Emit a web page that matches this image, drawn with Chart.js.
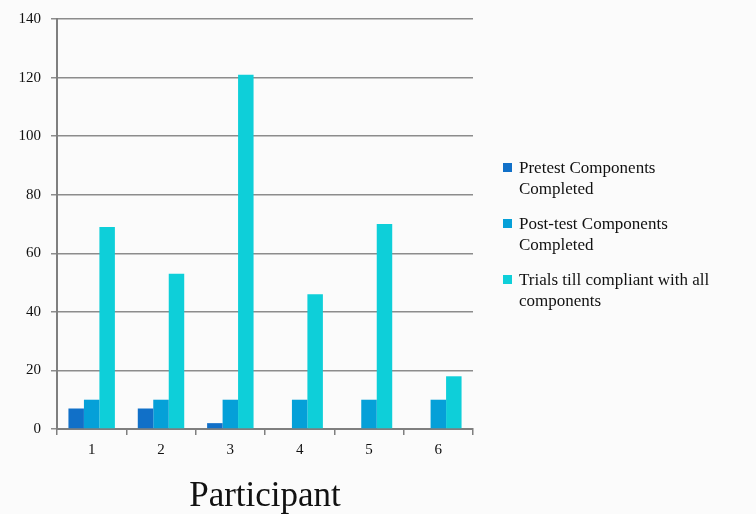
<!DOCTYPE html>
<html>
<head>
<meta charset="utf-8">
<script src="https://cdn.jsdelivr.net/npm/chart.js@4.4.0/dist/chart.umd.min.js"></script>
<style>
  html, body { margin:0; padding:0; background:#fbfbfb; }
  #wrap { position:relative; width:756px; height:514px; }
  #legend { position:absolute; left:501px; top:157px; font-family:"Liberation Serif", serif; font-size:17px; color:#111; line-height:21px; }
  .item { position:relative; padding-left:18px; margin-bottom:14px; width:200px; }
  .sw { position:absolute; left:2px; top:6px; width:9px; height:9px; }
</style>
</head>
<body>
<div id="wrap">
  <canvas id="c" width="756" height="514"></canvas>
  <div id="legend"></div>
</div>
<script>
// datos
const participants = ["1", "2", "3", "4", "5", "6"];
const pretest  = [7, 7, 2, 0, 0, 0];
const posttest = [10, 10, 10, 10, 10, 10];
const trials   = [69, 53, 121, 46, 70, 18];
const seriesNames = ["Pretest Components Completed", "Post-test Components Completed", "Trials till compliant with all components"];
const seriesColors = ["#1170c8", "#05a0d8", "#0ecfd9"];
const yTicks = [0, 20, 40, 60, 80, 100, 120, 140];

const FONT = "'Liberation Serif', serif";

const chart = new Chart(document.getElementById("c"), {
  type: "bar",
  data: {
    labels: participants,
    datasets: [pretest, posttest, trials].map((d, i) => ({
      label: seriesNames[i],
      data: d,
      backgroundColor: seriesColors[i],
      barPercentage: 1,
      categoryPercentage: 0.67
    }))
  },
  options: {
    responsive: false,
    animation: false,
    layout: { padding: { top: 10, right: 283, left: 0, bottom: 0 } },
    plugins: {
      legend: { display: false },
      tooltip: { enabled: false }
    },
    scales: {
      y: {
        min: 0, max: 140,
        afterFit: s => { s.width = 57; },
        afterBuildTicks: s => { s.ticks = yTicks.map(v => ({ value: v })); },
        border: { color: "#7f7f7f", width: 2 },
        grid: { color: "#8c8c8c", lineWidth: 1.5, tickLength: 6 },
        ticks: { color: "#111", font: { family: FONT, size: 15 }, padding: 10 }
      },
      x: {
        afterFit: s => { s.height = 85; },
        border: { color: "#7f7f7f", width: 2 },
        grid: { drawOnChartArea: false, color: "#7f7f7f", lineWidth: 1.5, tickLength: 6, offset: true },
        ticks: { color: "#111", font: { family: FONT, size: 15 }, padding: 6 },
        title: { display: true, text: "Participant", color: "#111", font: { family: FONT, size: 35 }, padding: { top: 20, bottom: -4 } }
      }
    }
  }
});

// leyenda en HTML (texto en dos líneas)
const legend = document.getElementById("legend");
seriesNames.forEach((n, i) => {
  const div = document.createElement("div");
  div.className = "item";
  div.innerHTML = `<span class="sw" style="background:${seriesColors[i]}"></span>${n}`;
  legend.appendChild(div);
});
</script>
</body>
</html>
